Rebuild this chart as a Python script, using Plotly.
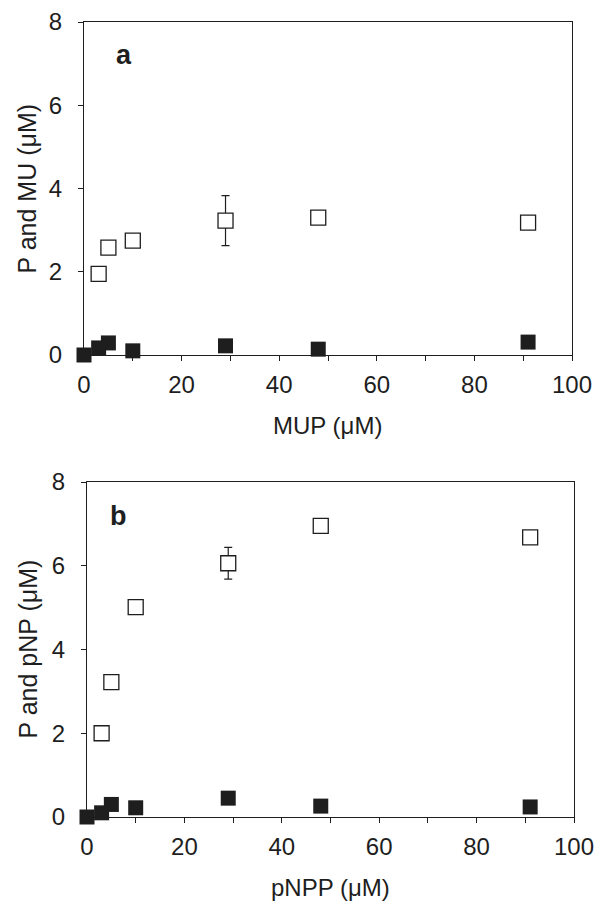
import plotly.graph_objects as go

# Panel a: MUP substrate
a_x = [0, 3, 5, 10, 29, 48, 91]
a_open_x = [3, 5, 10, 29, 48, 91]
a_open_y = [1.95, 2.58, 2.75, 3.23, 3.3, 3.18]
a_open_err = [0, 0, 0, 0.6, 0, 0]
a_fill_y = [0.0, 0.17, 0.29, 0.1, 0.22, 0.14, 0.31]

# Panel b: pNPP substrate
b_x = [0, 3, 5, 10, 29, 48, 91]
b_open_x = [3, 5, 10, 29, 48, 91]
b_open_y = [2.0, 3.22, 5.01, 6.06, 6.95, 6.68]
b_open_err = [0, 0, 0, 0.38, 0, 0.1]
b_fill_y = [0.0, 0.1, 0.3, 0.22, 0.45, 0.26, 0.24]

x_ticks = [0, 20, 40, 60, 80, 100]
y_ticks = [0, 2, 4, 6, 8]

FONT = "Liberation Sans, Arial, sans-serif"
INK = "#1e1e1e"

W, H = 594, 901


def fx(p):
    return p / W


def fy(p):
    return 1 - p / H


fig = go.Figure()


def add_panel(xo, yo, err, xf, yf, xa, ya):
    ex = [x for x, e in zip(xo, err) if e > 0]
    ey = [y for y, e in zip(yo, err) if e > 0]
    ee = [e for e in err if e > 0]
    fig.add_trace(go.Scatter(
        x=ex, y=ey, mode="markers", xaxis=xa, yaxis=ya,
        marker=dict(size=1, color="rgba(0,0,0,0)"),
        error_y=dict(type="data", array=ee, visible=True, color=INK,
                     thickness=1.2, width=4),
        cliponaxis=False, showlegend=False, hoverinfo="skip"))
    fig.add_trace(go.Scatter(
        x=xo, y=yo, mode="markers", xaxis=xa, yaxis=ya,
        marker=dict(symbol="square", size=15, color="white",
                    line=dict(width=1.3, color=INK)),
        cliponaxis=False, showlegend=False))
    fig.add_trace(go.Scatter(
        x=xf, y=yf, mode="markers", xaxis=xa, yaxis=ya,
        marker=dict(symbol="square", size=15, color=INK,
                    line=dict(width=0)),
        cliponaxis=False, showlegend=False))


add_panel(a_open_x, a_open_y, a_open_err, a_x, a_fill_y, "x", "y")
add_panel(b_open_x, b_open_y, b_open_err, b_x, b_fill_y, "x2", "y2")

axis_common = dict(showline=True, linecolor=INK, linewidth=1.3,
                   mirror=True, showgrid=False, zeroline=False,
                   ticks="outside", ticklen=5, tickcolor=INK,
                   automargin=False, ticklabeloverflow="allow",
                   tickfont=dict(family=FONT, size=24, color=INK))

xcommon = dict(axis_common, range=[0, 100], tickvals=x_ticks,
               minor=dict(dtick=10, tick0=0, ticks="outside", ticklen=5,
                          tickcolor=INK),
               ticklabelstandoff=3)
ycommon = dict(axis_common, range=[0, 8], tickvals=y_ticks,
               ticklabelstandoff=11)

A_X = [fx(84), fx(572)]
A_Y = [fy(355), fy(22)]
B_X = [fx(87), fx(574)]
B_Y = [fy(817), fy(482)]

title_font = dict(family=FONT, size=24, color=INK)
ytitle_font = dict(family=FONT, size=25, color=INK)

fig.update_layout(
    width=W, height=H,
    margin=dict(l=0, r=0, t=0, b=0),
    paper_bgcolor="white", plot_bgcolor="white",
    font=dict(family=FONT, color=INK),
    xaxis=dict(xcommon, domain=A_X, anchor="y"),
    yaxis=dict(ycommon, domain=A_Y, anchor="x"),
    xaxis2=dict(xcommon, domain=B_X, anchor="y2"),
    yaxis2=dict(ycommon, domain=B_Y, anchor="x2"),
    annotations=[
        # axis titles
        dict(text="MUP (μM)", x=(A_X[0]+A_X[1])/2, y=fy(425),
             xref="paper", yref="paper", showarrow=False,
             xanchor="center", yanchor="middle", font=title_font),
        dict(text="P and MU (μM)", x=fx(27), y=(A_Y[0]+A_Y[1])/2,
             xref="paper", yref="paper", showarrow=False, textangle=-90,
             xanchor="center", yanchor="middle", font=ytitle_font),
        dict(text="pNPP (μM)", x=(B_X[0]+B_X[1])/2, y=fy(887),
             xref="paper", yref="paper", showarrow=False,
             xanchor="center", yanchor="middle", font=title_font),
        dict(text="P and pNP (μM)", x=fx(27), y=(B_Y[0]+B_Y[1])/2,
             xref="paper", yref="paper", showarrow=False, textangle=-90,
             xanchor="center", yanchor="middle", font=ytitle_font),
        # panel letters
        dict(text="<b>a</b>", x=8.2, y=7.2, xref="x", yref="y", showarrow=False,
             xanchor="center", yanchor="middle",
             font=dict(family=FONT, size=27, color=INK)),
        dict(text="<b>b</b>", x=6.4, y=7.2, xref="x2", yref="y2", showarrow=False,
             xanchor="center", yanchor="middle",
             font=dict(family=FONT, size=27, color=INK)),
    ],
)

# remove the browser's default page margin so the figure fills the window
fig.write_html("out.html",
               config={"displayModeBar": False},
               post_script="document.body.style.margin='0';"
                           "document.body.style.overflow='hidden';")
